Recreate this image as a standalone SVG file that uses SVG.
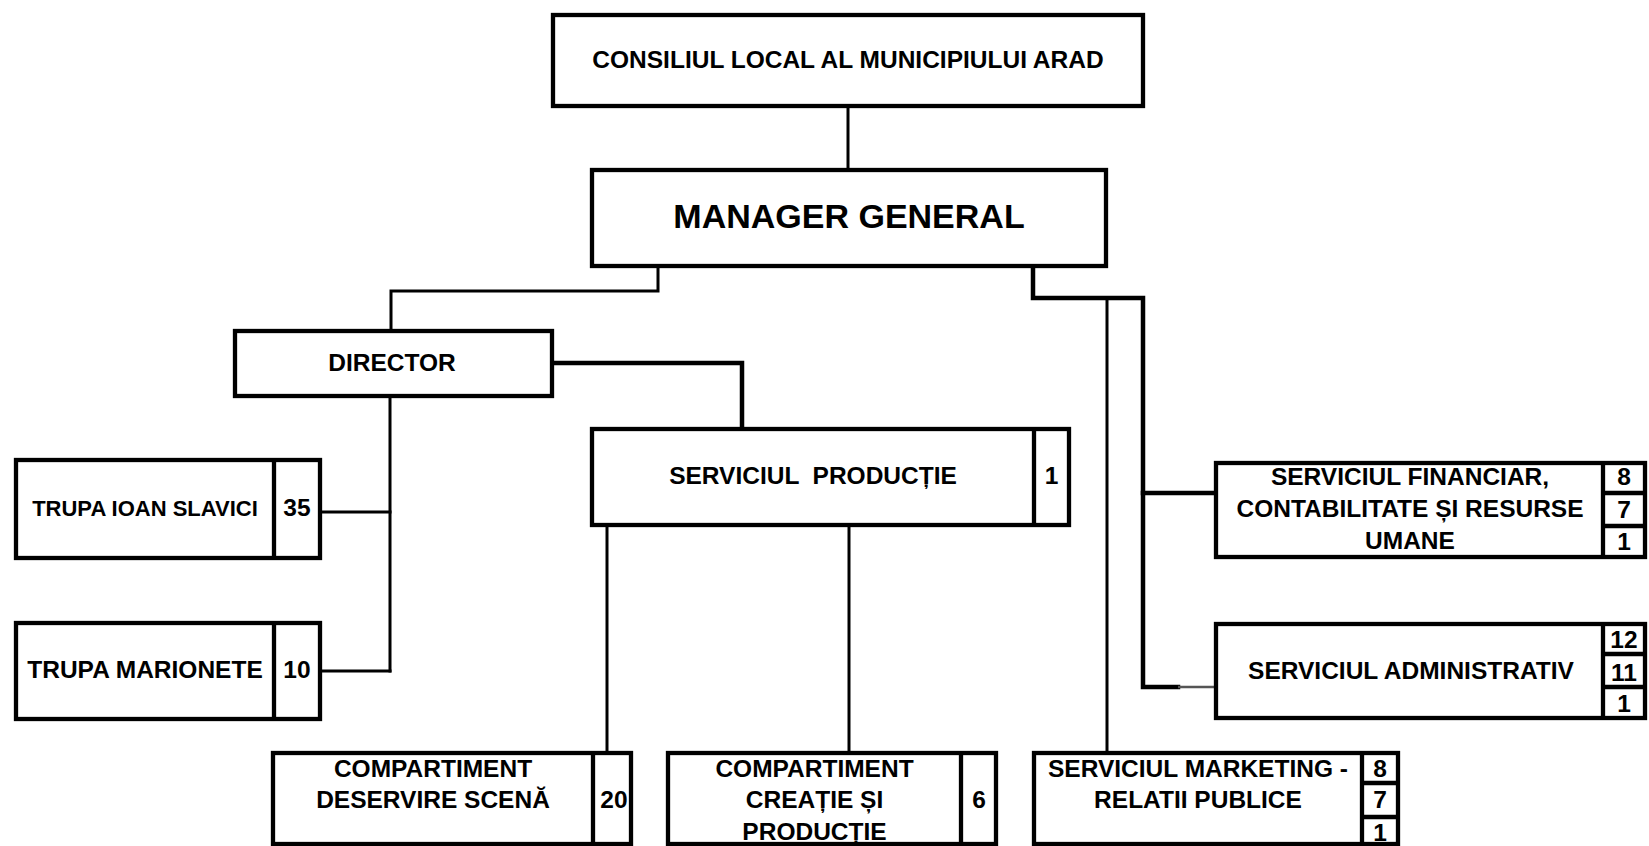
<svg xmlns="http://www.w3.org/2000/svg" width="1649" height="846" viewBox="0 0 1649 846">
<style>
  .box { fill: #fff; stroke: #000; stroke-width: 4.3; }
  .div { stroke: #000; stroke-width: 4.3; fill: none; }
  .t { font-family: "Liberation Sans", Arial, sans-serif; font-weight: bold; font-size: 24.5px; fill: #000; text-anchor: middle; }
  .c { stroke: #000; fill: none; stroke-linecap: square; }
  .thin { stroke-width: 3; }
  .thick { stroke-width: 4.5; }
</style>
<rect width="1649" height="846" fill="#fff"/>

<g id="connectors">
  <line class="c thin" x1="848" y1="106" x2="848" y2="170"/>
  <polyline class="c thin" points="658,266 658,291 391,291 391,331"/>
  <polyline class="c thick" points="552,363 742,363 742,429"/>
  <line class="c thin" x1="390" y1="396" x2="390" y2="671"/>
  <line class="c thin" x1="320" y1="512" x2="390" y2="512"/>
  <line class="c thin" x1="320" y1="671" x2="390" y2="671"/>
  <line class="c thin" x1="607" y1="525" x2="607" y2="753"/>
  <line class="c thin" x1="849" y1="525" x2="849" y2="753"/>
  <polyline class="c thick" points="1033,266 1033,298 1143,298 1143,687 1178,687"/>
  <line class="c thick" x1="1143" y1="493" x2="1216" y2="493"/>
  <line x1="1178" y1="687" x2="1216" y2="687" stroke="#555" stroke-width="2.5"/>
  <line class="c thin" x1="1107" y1="298" x2="1107" y2="753"/>
</g>

<g id="consiliul">
  <rect class="box" x="553" y="15" width="590" height="91"/>
  <text class="t" x="848" y="68">CONSILIUL LOCAL AL MUNICIPIULUI ARAD</text>
</g>

<g id="manager">
  <rect class="box" x="592" y="170" width="514" height="96"/>
  <text class="t" x="849" y="228" style="font-size:34px">MANAGER GENERAL</text>
</g>

<g id="director">
  <rect class="box" x="235" y="331" width="317" height="65"/>
  <text class="t" x="392" y="371">DIRECTOR</text>
</g>

<g id="trupa-slavici">
  <rect class="box" x="16" y="460" width="304" height="98"/>
  <line class="div" x1="274" y1="460" x2="274" y2="558"/>
  <text class="t" x="145" y="516" style="font-size:22px">TRUPA IOAN SLAVICI</text>
  <text class="t" x="297" y="516">35</text>
</g>

<g id="trupa-marionete">
  <rect class="box" x="16" y="623" width="304" height="96"/>
  <line class="div" x1="274" y1="623" x2="274" y2="719"/>
  <text class="t" x="145" y="678">TRUPA MARIONETE</text>
  <text class="t" x="297" y="678">10</text>
</g>

<g id="serviciul-productie">
  <rect class="box" x="592" y="429" width="477" height="96"/>
  <line class="div" x1="1034" y1="429" x2="1034" y2="525"/>
  <text class="t" x="813" y="484" style="white-space:pre">SERVICIUL  PRODUCȚIE</text>
  <text class="t" x="1051.5" y="484">1</text>
</g>

<g id="serviciul-financiar">
  <rect class="box" x="1216" y="463" width="429" height="94"/>
  <line class="div" x1="1603" y1="463" x2="1603" y2="557"/>
  <line class="div" x1="1603" y1="493" x2="1645" y2="493"/>
  <line class="div" x1="1603" y1="526" x2="1645" y2="526"/>
  <text class="t" x="1410" y="485">SERVICIUL FINANCIAR,</text>
  <text class="t" x="1410" y="517">CONTABILITATE ȘI RESURSE</text>
  <text class="t" x="1410" y="549">UMANE</text>
  <text class="t" x="1624" y="485">8</text>
  <text class="t" x="1624" y="518">7</text>
  <text class="t" x="1624" y="550">1</text>
</g>

<g id="serviciul-administrativ">
  <rect class="box" x="1216" y="624" width="429" height="94"/>
  <line class="div" x1="1603" y1="624" x2="1603" y2="718"/>
  <line class="div" x1="1603" y1="654" x2="1645" y2="654"/>
  <line class="div" x1="1603" y1="687" x2="1645" y2="687"/>
  <text class="t" x="1411" y="679">SERVICIUL ADMINISTRATIV</text>
  <text class="t" x="1624" y="648">12</text>
  <text class="t" x="1624" y="681">11</text>
  <text class="t" x="1624" y="712">1</text>
</g>

<g id="compartiment-deservire">
  <rect class="box" x="273" y="753" width="358" height="91"/>
  <line class="div" x1="593" y1="753" x2="593" y2="844"/>
  <text class="t" x="433" y="777">COMPARTIMENT</text>
  <text class="t" x="433" y="808">DESERVIRE SCENĂ</text>
  <text class="t" x="614" y="808">20</text>
</g>

<g id="compartiment-creatie">
  <rect class="box" x="668" y="753" width="328" height="91"/>
  <line class="div" x1="961" y1="753" x2="961" y2="844"/>
  <text class="t" x="814.5" y="777">COMPARTIMENT</text>
  <text class="t" x="814.5" y="808">CREAȚIE ȘI</text>
  <text class="t" x="814.5" y="840">PRODUCȚIE</text>
  <text class="t" x="979" y="808">6</text>
</g>

<g id="serviciul-marketing">
  <rect class="box" x="1034" y="753" width="364" height="91"/>
  <line class="div" x1="1362" y1="753" x2="1362" y2="844"/>
  <line class="div" x1="1362" y1="783" x2="1398" y2="783"/>
  <line class="div" x1="1362" y1="817" x2="1398" y2="817"/>
  <text class="t" x="1198" y="777">SERVICIUL MARKETING -</text>
  <text class="t" x="1198" y="808">RELATII PUBLICE</text>
  <text class="t" x="1380" y="777">8</text>
  <text class="t" x="1380" y="808">7</text>
  <text class="t" x="1380" y="841">1</text>
</g>
</svg>
